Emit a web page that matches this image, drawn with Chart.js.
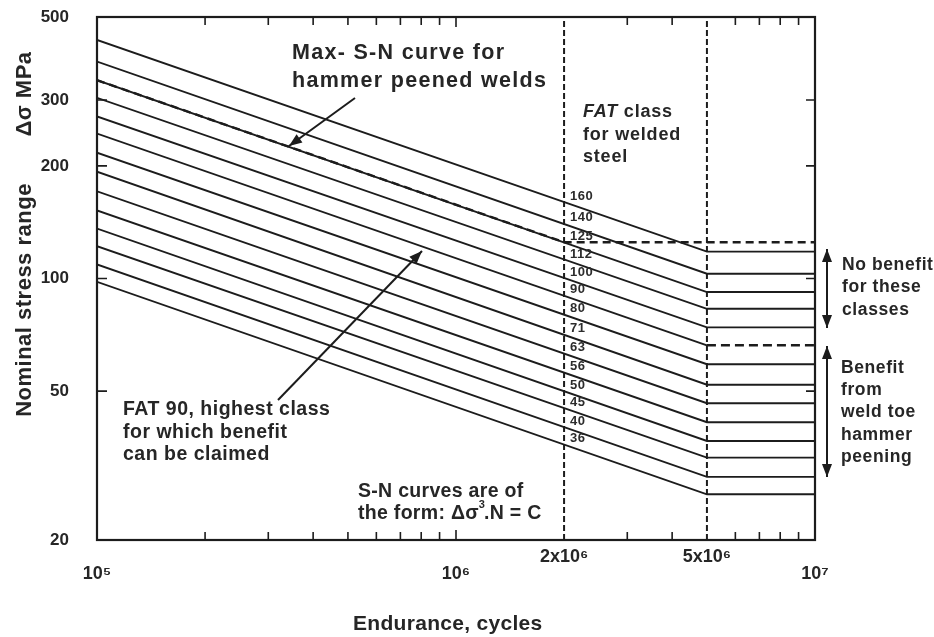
<!DOCTYPE html>
<html><head><meta charset="utf-8">
<script src="https://cdn.jsdelivr.net/npm/chart.js@4.4.0/dist/chart.umd.min.js"></script>
<style>html,body{margin:0;padding:0;background:#fff}#wrap{width:934px;height:637px;position:relative}</style>
</head><body><div id="wrap"><canvas id="c"></canvas></div>
<script>
// ---- data ----
const fatClasses   = [160, 140, 125, 112, 100, 90, 80, 71, 63, 56, 50, 45, 40, 36];
const stressAt1e5  = [434, 380, 339, 304, 271, 244, 217, 193, 171, 152, 136, 122, 109, 98];
const stressAtKnee = [118, 103, 92, 83, 74, 66.3, 59, 52, 46.4, 41.3, 36.8, 33.2, 29.5, 26.5];
const curveCycles  = [1e5, 5e6, 1e7];          // start, knee, end of each FAT curve
const maxCurveCycles = [1e5, 2e6, 1e7];        // max S-N curve for hammer peened welds
const maxCurveStress = [339, 125, 125];
const markerCycles = [2e6, 5e6];               // vertical dashed reference lines
const benefitLimitFat = 90;
const yTickValues  = [20, 50, 100, 200, 300, 500];
const yTickLabels  = ['20', '50', '100', '200', '300', '500'];
const xTickValues  = [1e5, 1e6, 2e6, 5e6, 1e7];
const xTickLabels  = [['', '10⁵'], ['', '10⁶'], ['2x10⁶'], ['5x10⁶'], ['', '10⁷']];
const xMinorTicks  = [2e5, 3e5, 4e5, 5e5, 6e5, 7e5, 8e5, 9e5, 1e6, 3e6, 4e6, 6e6, 7e6, 8e6, 9e6];
const ySideTicks   = [50, 100, 200, 300];

const INK = '#1c1c1c';
const TXT = '#262626';
const FONT = '"Liberation Sans", Arial, sans-serif';

const datasets = [];
fatClasses.forEach((f, i) => {
  const ds = {
    label: 'FAT ' + f,
    data: curveCycles.map((n, k) => ({x: n, y: k === 0 ? stressAt1e5[i] : stressAtKnee[i]})),
    borderColor: INK, borderWidth: 1.9, pointRadius: 0, showLine: true, fill: false
  };
  if (f === benefitLimitFat) {
    ds.segment = {
      borderDash: c => c.p0DataIndex === 1 ? [9, 5] : undefined,
      borderWidth: c => c.p0DataIndex === 1 ? 2.6 : undefined
    };
  }
  datasets.push(ds);
});
markerCycles.forEach(n => datasets.push({
  label: 'marker', data: [{x: n, y: 20}, {x: n, y: 500}],
  borderColor: INK, borderWidth: 2, borderDash: [6, 3], pointRadius: 0, showLine: true
}));
datasets.push({
  label: 'Max S-N', data: maxCurveCycles.map((n, k) => ({x: n, y: maxCurveStress[k]})),
  borderColor: INK, borderWidth: 2.4, borderDash: [8, 5], pointRadius: 0, showLine: true
});

function setFont(ctx, size, style, ls) {
  ctx.font = (style || 'bold') + ' ' + size + 'px ' + FONT;
  ctx.letterSpacing = (ls || 0) + 'px';
}
function text(ctx, s, x, y, size, ls, style) {
  setFont(ctx, size, style, ls);
  ctx.fillText(s, x, y);
  return ctx.measureText(s).width;
}
function arrowHead(ctx, x1, y1, x2, y2, len, wid) {
  const a = Math.atan2(y2 - y1, x2 - x1);
  ctx.beginPath();
  ctx.moveTo(x2, y2);
  ctx.lineTo(x2 - len * Math.cos(a) + wid / 2 * Math.sin(a), y2 - len * Math.sin(a) - wid / 2 * Math.cos(a));
  ctx.lineTo(x2 - len * Math.cos(a) - wid / 2 * Math.sin(a), y2 - len * Math.sin(a) + wid / 2 * Math.cos(a));
  ctx.closePath(); ctx.fill();
}
function arrow(ctx, x1, y1, x2, y2, both) {
  ctx.beginPath(); ctx.moveTo(x1, y1); ctx.lineTo(x2, y2); ctx.stroke();
  arrowHead(ctx, x1, y1, x2, y2, 13, 10);
  if (both) arrowHead(ctx, x2, y2, x1, y1, 13, 10);
}

const decor = {
  id: 'decor',
  afterDraw(chart) {
    const ctx = chart.ctx, ca = chart.chartArea, xs = chart.scales.x, ys = chart.scales.y;
    ctx.save();
    // frame
    ctx.strokeStyle = INK; ctx.lineWidth = 2.2; ctx.setLineDash([]);
    ctx.strokeRect(ca.left, ca.top, ca.right - ca.left, ca.bottom - ca.top);
    // inward ticks
    ctx.lineWidth = 1.6;
    xMinorTicks.forEach(v => {
      const x = xs.getPixelForValue(v), L = v === 1e6 ? 10 : 8;
      ctx.beginPath(); ctx.moveTo(x, ca.top); ctx.lineTo(x, ca.top + L);
      ctx.moveTo(x, ca.bottom); ctx.lineTo(x, ca.bottom - L); ctx.stroke();
    });
    ySideTicks.forEach(v => {
      const y = ys.getPixelForValue(v);
      ctx.beginPath(); ctx.moveTo(ca.left, y); ctx.lineTo(ca.left + 10, y);
      ctx.moveTo(ca.right, y); ctx.lineTo(ca.right - 9, y); ctx.stroke();
    });
    // FAT labels
    ctx.fillStyle = '#2c2c2c'; ctx.textBaseline = 'middle'; ctx.textAlign = 'left';
    const x2e6 = xs.getPixelForValue(2e6);
    fatClasses.forEach(f => {
      text(ctx, String(f), x2e6 + 6, ys.getPixelForValue(f) - 6, 13, 0.5);
    });
    ctx.fillStyle = TXT;
    // axis titles
    text(ctx, 'Endurance, cycles', 353, 624, 21, 0.3);
    ctx.save(); ctx.translate(25, 300); ctx.rotate(-Math.PI / 2); ctx.textAlign = 'center';
    text(ctx, 'Nominal stress range', 0, 0, 22, 0.5);
    ctx.restore();
    ctx.save(); ctx.translate(25, 94); ctx.rotate(-Math.PI / 2); ctx.textAlign = 'center';
    text(ctx, 'Δσ MPa', 0, 0, 22, 0.5);
    ctx.restore();
    // annotations
    text(ctx, 'Max- S-N curve for', 292, 53, 21.5, 1.3);
    text(ctx, 'hammer peened welds', 292, 81, 21.5, 1.3);
    let w = text(ctx, 'FAT', 583, 112, 18, 0.8, 'italic bold');
    text(ctx, ' class', 583 + w, 112, 18, 0.8);
    text(ctx, 'for welded', 583, 135, 18, 0.8);
    text(ctx, 'steel', 583, 157, 18, 0.8);
    text(ctx, 'FAT 90, highest class', 123, 410, 19.5, 0.5);
    text(ctx, 'for which benefit', 123, 433, 19.5, 0.5);
    text(ctx, 'can be claimed', 123, 455, 19.5, 0.5);
    text(ctx, 'S-N curves are of', 358, 492, 19.5, 0.3);
    w = text(ctx, 'the form: Δσ', 358, 514, 19.5, 0.3);
    text(ctx, '3', 358 + w, 505, 11, 0);
    setFont(ctx, 11, 'bold', 0); const w3 = ctx.measureText('3').width;
    text(ctx, '.N = C', 358 + w + w3 - 1, 514, 19.5, 0.3);
    ['No benefit', 'for these', 'classes'].forEach((s, i) => text(ctx, s, 842, 265 + i * 22.5, 17.5, 0.6));
    ['Benefit', 'from', 'weld toe', 'hammer', 'peening'].forEach((s, i) => text(ctx, s, 841, 368 + i * 22.3, 17.5, 0.6));
    // arrows
    ctx.strokeStyle = INK; ctx.fillStyle = INK; ctx.lineWidth = 2;
    arrow(ctx, 355, 98, 289, 146, false);
    arrow(ctx, 278, 400, 422, 251, false);
    arrow(ctx, 827, 249, 827, 328, true);
    arrow(ctx, 827, 346, 827, 477, true);
    ctx.restore();
  }
};

new Chart(document.getElementById('c'), {
  type: 'scatter',
  data: {datasets},
  options: {
    responsive: true, maintainAspectRatio: false, animation: false,
    layout: {padding: {top: 17, right: 119, left: 0, bottom: 0}},
    plugins: {legend: {display: false}, tooltip: {enabled: false}},
    elements: {line: {tension: 0}},
    scales: {
      x: {
        type: 'logarithmic', min: 1e5, max: 1e7,
        grid: {display: false}, border: {display: false},
        afterBuildTicks: s => { s.ticks = xTickValues.map(v => ({value: v})); },
        afterFit: s => { s.height = 97; s.paddingLeft = 0; s.paddingRight = 0; },
        ticks: {
          autoSkip: false, maxRotation: 0, minRotation: 0, padding: 0, color: TXT,
          font: {family: FONT, size: 18, weight: 'bold', lineHeight: 0.95},
          callback: v => xTickLabels[xTickValues.indexOf(v)]
        }
      },
      y: {
        type: 'logarithmic', min: 20, max: 500,
        grid: {display: false}, border: {display: false},
        afterBuildTicks: s => { s.ticks = yTickValues.map(v => ({value: v})); },
        afterFit: s => { s.width = 97; s.paddingTop = 0; s.paddingBottom = 0; },
        ticks: {
          padding: 20, color: TXT,
          font: {family: FONT, size: 17, weight: 'bold'},
          callback: v => yTickLabels[yTickValues.indexOf(v)]
        }
      }
    }
  },
  plugins: [decor]
});
</script></body></html>
